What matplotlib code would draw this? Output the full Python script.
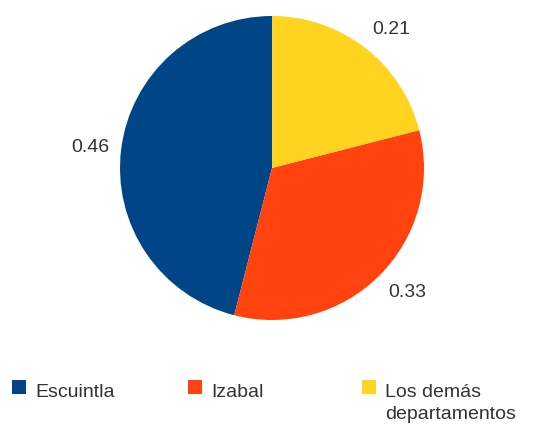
import numpy as np
import matplotlib
matplotlib.use("Agg")
import matplotlib.pyplot as plt
from matplotlib.patches import Rectangle

categories = ["Escuintla", "Izabal", "Los demás\ndepartamentos"]
values = [0.46, 0.33, 0.21]
value_labels = ["0.46", "0.33", "0.21"]
colors = ["#004586", "#ff420e", "#ffd320"]

W, H = 556, 429
fig = plt.figure(figsize=(W / 100, H / 100), dpi=100)
plt.rcParams['font.family'] = ['Liberation Sans', 'DejaVu Sans']
ax = fig.add_axes([0, 0, 1, 1])

cx, cy, r = 272, H - 168, 152
wedges, texts = ax.pie(values, colors=colors, startangle=90, counterclock=True,
                       center=(cx, cy), radius=r, labels=value_labels,
                       labeldistance=1.08,
                       textprops=dict(fontsize=14, color="#333333"),
                       wedgeprops=dict(linewidth=0))
for w, t in zip(wedges, texts):
    th = np.deg2rad((w.theta1 + w.theta2) / 2)
    s, c = np.sin(th), np.cos(th)
    t.set_va("center" if abs(s) < 0.4 else ("bottom" if s > 0 else "top"))
    t.set_ha("center" if abs(c) < 0.4 else ("left" if c > 0 else "right"))
ax.set_xlim(0, W)
ax.set_ylim(0, H)
ax.set_aspect("equal")
ax.axis("off")

# legend
leg_x = [12, 188, 362]
sq = 14
for x, lab, col in zip(leg_x, categories, colors):
    fig.patches.append(Rectangle((x / W, (H - 394) / H), sq / W, sq / H,
                                 transform=fig.transFigure, color=col, lw=0))
    fig.text((x + sq + 9) / W, (H - 384) / H, lab, fontsize=14, color="#333333",
             ha="left", va="top", linespacing=1.4)

fig.savefig("out.png", dpi=100, facecolor="white")
